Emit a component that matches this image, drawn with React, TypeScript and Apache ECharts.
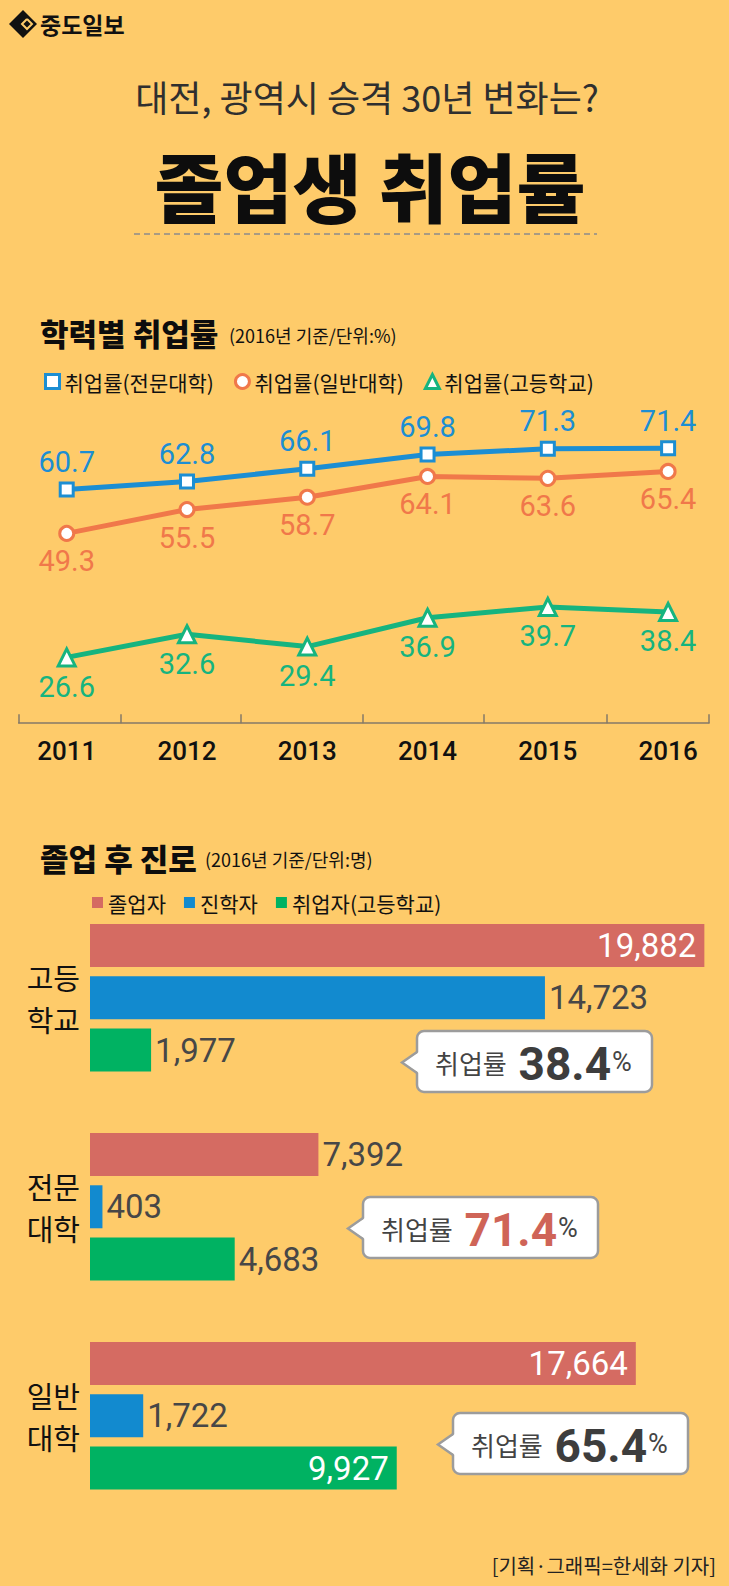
import React, { useEffect, useRef } from 'react';
import * as echarts from 'echarts';

// ---------- data ----------
const years = [2011, 2012, 2013, 2014, 2015, 2016];
const rateJunior = [60.7, 62.8, 66.1, 69.8, 71.3, 71.4]; // 전문대학
const rateUniv = [49.3, 55.5, 58.7, 64.1, 63.6, 65.4]; // 일반대학
const rateHigh = [26.6, 32.6, 29.4, 36.9, 39.7, 38.4]; // 고등학교

const schools = ['고등학교', '전문대학', '일반대학'];
const graduates = [19882, 7392, 17664]; // 졸업자
const advanced = [14723, 403, 1722]; // 진학자
const employed = [1977, 4683, 9927]; // 취업자
const employRate2016 = [38.4, 71.4, 65.4];

const lineNames = ['취업률(전문대학)', '취업률(일반대학)', '취업률(고등학교)'];
const barNames = ['졸업자', '진학자', '취업자(고등학교)'];

// ---------- style ----------
const BG = '#FECB6A';
const BLUE = '#1C8ED3';
const ORANGE = '#F0784A';
const GREEN = '#16B47F';
const BAR_RED = '#D56B62';
const BAR_BLUE = '#128ACF';
const BAR_GREEN = '#00B262';
const KR = "'Noto Sans CJK KR', 'Noto Sans', sans-serif";
const NUM = "'Roboto', 'Noto Sans', sans-serif";

const fmt = (v: number) => v.toLocaleString('en-US');

export default function App() {
  const ref = useRef<HTMLDivElement>(null);

  useEffect(() => {
    document.body.style.margin = '0';
    if (!ref.current) return;
    const chart = echarts.init(ref.current, undefined, { renderer: 'svg' });

    // rows of the bar chart: 3 per school + a gap between schools
    const rows: string[] = [];
    const rowSchool: (number | null)[] = [];
    const rowKind: (number | null)[] = [];
    schools.forEach((s, i) => {
      barNames.forEach((b, k) => {
        rows.push(`${s}|${k}`);
        rowSchool.push(i);
        rowKind.push(k);
      });
      if (i < schools.length - 1) {
        rows.push(`gap${i}`);
        rowSchool.push(null);
        rowKind.push(null);
      }
    });
    const barSources = [graduates, advanced, employed];
    const barColors = [BAR_RED, BAR_BLUE, BAR_GREEN];

    const barSeries = barNames.map((name, k) => ({
      type: 'bar',
      name,
      xAxisIndex: 1,
      yAxisIndex: 2,
      stack: 'rows',
      barWidth: 43,
      itemStyle: { color: barColors[k] },
      label: {
        show: true,
        position: 'right',
        distance: 4,
        color: '#474747',
        fontFamily: NUM,
        fontSize: 33,
        formatter: (p: any) => fmt(p.value),
      },
      data: rows.map((_, r) => {
        if (rowKind[r] !== k) return '-';
        const v = barSources[k][rowSchool[r] as number];
        const inside = k !== 1 && v >= 9000;
        return inside
          ? { value: v, label: { position: 'insideRight', distance: 8, color: '#fff' } }
          : { value: v };
      }),
    }));

    const lineSeries = [
      {
        name: lineNames[0], values: rateJunior, color: BLUE, symbol: 'rect', size: 13, pos: 'top', y: 0,
      },
      {
        name: lineNames[1], values: rateUniv, color: ORANGE, symbol: 'circle', size: 14, pos: 'bottom', y: 0,
      },
      {
        name: lineNames[2], values: rateHigh, color: GREEN, symbol: 'triangle', size: 17, pos: 'bottom', y: 1,
      },
    ].map((s) => ({
      type: 'line',
      name: s.name,
      xAxisIndex: 0,
      yAxisIndex: s.y,
      data: years.map((yr, i) => [yr, s.values[i]]),
      symbol: s.symbol,
      symbolSize: s.size,
      lineStyle: { color: s.color, width: 5 },
      itemStyle: { color: '#fff', borderColor: s.color, borderWidth: 3 },
      label: {
        show: true,
        position: s.pos,
        distance: 5,
        color: s.color,
        fontFamily: NUM,
        fontSize: 29,
        formatter: (p: any) => p.value[1].toFixed(1),
      },
      z: 3,
    }));

    const callouts = [
      { x: 417, y: 1031, color: '#3d3d3d' },
      { x: 363, y: 1197, color: '#CF6457' },
      { x: 453, y: 1413, color: '#3d3d3d' },
    ];
    const calloutGraphics = callouts.map((c, i) => ({
      type: 'group',
      x: c.x,
      y: c.y,
      children: [
        {
          type: 'rect',
          shape: { x: 0, y: 0, width: 235, height: 61, r: 7 },
          style: { fill: '#fff', stroke: '#9c9c9c', lineWidth: 2.5 },
        },
        {
          type: 'polygon',
          shape: { points: [[2, 21], [-15, 31.5], [2, 42]] },
          style: { fill: '#fff' },
        },
        {
          type: 'polyline',
          shape: { points: [[0, 21], [-15, 31.5], [0, 42]] },
          style: { fill: 'none', stroke: '#9c9c9c', lineWidth: 2.5 },
        },
        {
          type: 'text',
          x: 18,
          y: 33,
          style: {
            text: `{a|취업률 }{b|${employRate2016[i].toFixed(1)}}{c|%}`,
            verticalAlign: 'middle',
            rich: {
              a: { fontFamily: KR, fontSize: 26, fill: '#444', padding: [0, 6, 3, 0] },
              b: { fontFamily: NUM, fontSize: 46, fontWeight: 'bold', fill: c.color },
              c: { fontFamily: NUM, fontSize: 27, fill: '#444', padding: [0, 0, 4, 1] },
            },
          },
        },
      ],
    }));

    const option: any = {
      animation: false,
      backgroundColor: BG,
      textStyle: { fontFamily: KR },
      legend: [
        {
          left: 44,
          top: 371,
          padding: 0,
          itemWidth: 14,
          itemHeight: 14,
          itemGap: 20,
          textStyle: { fontFamily: KR, fontSize: 21, color: '#111' },
          data: [
            { name: lineNames[0], icon: 'rect', itemStyle: { color: '#fff', borderColor: BLUE, borderWidth: 3 } },
            { name: lineNames[1], icon: 'circle', itemStyle: { color: '#fff', borderColor: ORANGE, borderWidth: 3 } },
            { name: lineNames[2], icon: 'triangle', itemStyle: { color: '#fff', borderColor: GREEN, borderWidth: 3 } },
          ],
        },
        {
          left: 92,
          top: 892,
          padding: 0,
          itemWidth: 11,
          itemHeight: 11,
          itemGap: 18,
          icon: 'rect',
          textStyle: { fontFamily: KR, fontSize: 21, color: '#111' },
          data: barNames,
        },
      ],
      grid: [
        { left: 18.6, width: 690.4, top: 421, height: 308 },
        { left: 90, width: 618, top: 919.4, height: 574.75 },
      ],
      xAxis: [
        {
          gridIndex: 0,
          type: 'value',
          min: 2010.6,
          max: 2016.34,
          splitLine: { show: false },
          axisLine: { show: true, lineStyle: { color: '#857A68', width: 1.5 } },
          axisTick: {
            show: true,
            inside: true,
            length: 9,
            lineStyle: { color: '#857A68', width: 1.5 },
            customValues: [2010.6, 2011.45, 2012.45, 2013.46, 2014.47, 2015.49, 2016.34],
          },
          axisLabel: {
            show: true,
            customValues: years,
            margin: 9,
            color: '#111',
            fontFamily: NUM,
            fontWeight: 500,
            fontSize: 26,
            formatter: (v: number) => String(Math.round(v)),
          },
        },
        {
          gridIndex: 1,
          type: 'value',
          min: 0,
          max: 20000,
          show: false,
          splitLine: { show: false },
        },
      ],
      yAxis: [
        { gridIndex: 0, type: 'value', min: -1.5, max: 78.5, show: false, splitLine: { show: false } },
        { gridIndex: 0, type: 'value', min: 8, max: 88, show: false, splitLine: { show: false } },
        {
          gridIndex: 1,
          type: 'category',
          inverse: true,
          data: rows,
          axisLine: { show: false },
          axisTick: { show: false },
          splitLine: { show: false },
          axisLabel: {
            show: true,
            interval: 0,
            margin: 10,
            color: '#111',
            fontFamily: KR,
            fontSize: 29,
            lineHeight: 42,
            formatter: (v: string) => {
              const [s, k] = v.split('|');
              if (k !== '1') return '';
              return `${s.slice(0, 2)}\n${s.slice(2)}`;
            },
          },
        },
      ],
      series: [...lineSeries, ...barSeries],
      graphic: [
        // logo
        {
          type: 'polygon',
          shape: { points: [[23, 10], [37, 24], [23, 38], [9, 24]] },
          style: { fill: '#111' },
        },
        {
          type: 'polyline',
          shape: { points: [[27, 19], [22, 24], [27, 29], [32, 24], [27, 19]] },
          style: { fill: 'none', stroke: BG, lineWidth: 2 },
        },
        {
          type: 'text',
          x: 40,
          y: 24,
          style: { text: '중도일보', fontFamily: KR, fontSize: 23, fontWeight: 'bold', fill: '#111', verticalAlign: 'middle' },
        },
        // subtitle and title
        {
          type: 'text',
          x: 367,
          y: 96,
          style: {
            text: '대전, 광역시 승격 30년 변화는?',
            fontFamily: KR,
            fontSize: 36,
            fill: '#2f2f2f',
            align: 'center',
            verticalAlign: 'middle',
          },
        },
        {
          type: 'text',
          x: 370,
          y: 184,
          style: {
            text: '졸업생 취업률',
            fontFamily: KR,
            fontSize: 75,
            fontWeight: 900,
            fill: '#0d0d0d',
            align: 'center',
            verticalAlign: 'middle',
          },
        },
        {
          type: 'line',
          shape: { x1: 134, y1: 234, x2: 597, y2: 234 },
          style: { stroke: '#8c8c8c', lineWidth: 1.5, lineDash: [6, 4] },
        },
        // section 1 heading
        {
          type: 'text',
          x: 40,
          y: 332,
          style: { text: '학력별 취업률', fontFamily: KR, fontSize: 31, fontWeight: 900, fill: '#0d0d0d', verticalAlign: 'middle' },
        },
        {
          type: 'text',
          x: 229,
          y: 335,
          style: { text: '(2016년 기준/단위:%)', fontFamily: KR, fontSize: 18, fill: '#111', verticalAlign: 'middle' },
        },
        // section 2 heading
        {
          type: 'text',
          x: 40,
          y: 857,
          style: { text: '졸업 후 진로', fontFamily: KR, fontSize: 31, fontWeight: 900, fill: '#0d0d0d', verticalAlign: 'middle' },
        },
        {
          type: 'text',
          x: 205,
          y: 859,
          style: { text: '(2016년 기준/단위:명)', fontFamily: KR, fontSize: 18, fill: '#111', verticalAlign: 'middle' },
        },
        ...calloutGraphics,
        // credit
        {
          type: 'text',
          x: 716,
          y: 1565,
          style: {
            text: '[기획·그래픽=한세화 기자]',
            fontFamily: KR,
            fontSize: 20,
            fill: '#222',
            align: 'right',
            verticalAlign: 'middle',
          },
        },
      ],
    };

    chart.setOption(option);
    return () => chart.dispose();
  }, []);

  return <div ref={ref} style={{ width: 729, height: 1586 }} />;
}
